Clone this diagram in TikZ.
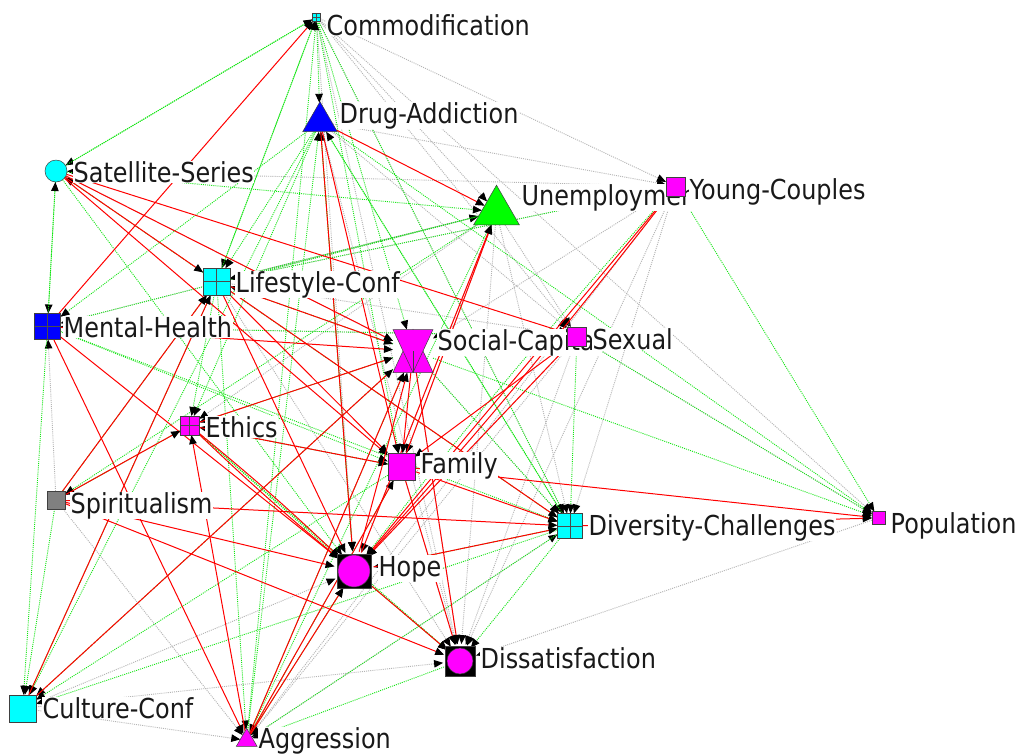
\documentclass[tikz,border=0pt]{standalone}
\usepackage{fontspec}
\setmainfont{DejaVu Sans}[FakeStretch=0.87]
\usetikzlibrary{arrows.meta,shapes.geometric}
\pgfdeclarelayer{bglayer}
\pgfdeclarelayer{edgelayer}
\pgfdeclarelayer{labellayer}
\pgfsetlayers{bglayer,edgelayer,labellayer,main}
\definecolor{lgreen}{RGB}{20,230,20}
\definecolor{lgray}{RGB}{180,180,180}
\definecolor{ncyan}{RGB}{0,255,255}
\definecolor{nmag}{RGB}{255,0,255}
\definecolor{nblue}{RGB}{0,0,255}
\definecolor{ngreen}{RGB}{0,255,0}
\definecolor{ngray}{RGB}{128,128,128}
\definecolor{nred}{RGB}{255,0,0}
\tikzset{
  shp/.style={draw=black!75, line width=0.5pt, inner sep=0pt, outer sep=0pt},
  sqn/.style={shp, rectangle, minimum size=#1},
  trn/.style={shp, regular polygon, regular polygon sides=3, minimum size=#1},
  crs/.style={path picture={\draw[black!70, line width=0.6pt]
      (path picture bounding box.north) -- (path picture bounding box.south)
      (path picture bounding box.west) -- (path picture bounding box.east);}},
  lbl/.style={anchor=base west, fill=white, inner sep=0.5pt,
      font=\fontsize{27.5}{30}\selectfont, text=black!90},
  tipb/.style={-{Triangle[length=9pt,width=7.5pt,color=black]}},
  er/.style={tipb, draw=nred, line width=1pt},
  eg/.style={tipb, draw=lgreen, line width=0.9pt, dash pattern=on 1pt off 1.1pt},
  ey/.style={tipb, draw=lgray, line width=0.9pt, dash pattern=on 1pt off 1.1pt},
}
\begin{document}
\begin{tikzpicture}[x=1pt,y=-1pt]
\useasboundingbox (0,0) rectangle (1019,753);
\begin{pgfonlayer}{bglayer}
\fill[white] (0,0) rectangle (1019,753);
\end{pgfonlayer}

% ---------- nodes ----------
\node[sqn=8pt, fill=ncyan, crs] (com) at (316.5,17) {};
\node[trn=40pt, fill=nblue] (drug) at (320,121.7) {};
\node[shp, circle, minimum size=22pt, fill=ncyan] (sat) at (56,171) {};
\node[trn=53pt, fill=ngreen] (unemp) at (496.5,211.7) {};
\node[sqn=19pt, fill=nmag] (yc) at (675.5,186.3) {};
\node[sqn=27pt, fill=ncyan, crs] (life) at (216.7,281.7) {};
\node[sqn=26pt, fill=nblue, crs] (mh) at (47.5,326.5) {};
\node[rectangle, minimum width=40pt, minimum height=43pt, inner sep=0pt, outer sep=0pt] (soc) at (413,351) {};
\filldraw[fill=nmag, draw=black!75, line width=0.5pt] (soc.south west) -- (soc.south east) -- (soc.north) -- cycle;
\filldraw[fill=nmag, draw=black!75, line width=0.5pt] (soc.north west) -- (soc.north east) -- (soc.south) -- cycle;
\draw[black!75, line width=0.5pt] (soc.center) -- (soc.south);
\node[sqn=19pt, fill=nmag] (sex) at (577,336.3) {};
\node[sqn=19pt, fill=nmag, crs] (eth) at (189.7,425.5) {};
\node[sqn=27pt, fill=nmag] (fam) at (401.3,466.7) {};
\node[sqn=18pt, fill=ngray] (spi) at (56,500) {};
\node[sqn=25pt, fill=ncyan, crs] (div) at (570,526) {};
\node[sqn=13pt, fill=nmag] (pop) at (878.3,518) {};
\node[circle, minimum size=40pt, inner sep=0pt, outer sep=0pt] (hope) at (354,571) {};
\node[sqn=34pt, fill=black] (hopesq) at (hope) {};
\node[shp, circle, minimum size=32pt, fill=nmag] (hopec) at (hope) {};
\node[circle, minimum size=34pt, inner sep=0pt, outer sep=0pt] (dis) at (460,661) {};
\node[sqn=30pt, fill=black] (dissq) at (dis) {};
\node[shp, circle, minimum size=26pt, fill=nmag] (disc) at (dis) {};
\node[sqn=27pt, fill=ncyan] (cul) at (22.7,708.3) {};
\node[trn=24pt, fill=nmag] (agg) at (246.7,740.3) {};

% ---------- labels ----------
\begin{pgfonlayer}{labellayer}
\node[lbl] (lcom) at (326,35) {Commodification};
\node[lbl] (ldrug) at (339,123) {Drug-Addiction};
\node[lbl] (lsat) at (73,182) {Satellite-Series};
\node[lbl] (lunemp) at (521,205) {Unemployment};
\node[lbl] (lyc) at (689,199) {Young-Couples};
\node[lbl] (llife) at (235,292) {Lifestyle-Conf};
\node[lbl] (lmh) at (63,337) {Mental-Health};
\node[lbl] (lsoc) at (437,350) {Social-Capital};
\node[lbl] (lsex) at (592,349) {Sexual};
\node[lbl] (leth) at (205,437) {Ethics};
\node[lbl] (lfam) at (420,473) {Family};
\node[lbl] (lspi) at (70,513) {Spiritualism};
\node[lbl] (lhope) at (378,576) {Hope};
\node[lbl] (ldiv) at (588,535) {Diversity-Challenges};
\node[lbl] (lpop) at (890,533) {Population};
\node[lbl] (ldis) at (480,668) {Dissatisfaction};
\node[lbl] (lcul) at (42,718) {Culture-Conf};
\node[lbl] (lagg) at (258,748) {Aggression};
\end{pgfonlayer}

% ---------- edges ----------
\begin{pgfonlayer}{edgelayer}
\foreach \a/\b in {com/unemp, com/yc, com/sex, com/div, com/dis, com/hope, com/pop,
  drug/yc, drug/sex, drug/dis, sat/soc,
  unemp/div, unemp/dis, unemp/sex, unemp/hope, unemp/fam, unemp/eth, unemp/life,
  yc/dis, yc/agg, yc/div, yc/soc, yc/life, yc/sat,
  life/sex, life/dis, life/unemp, mh/unemp, mh/sex,
  soc/dis, soc/div, sex/dis, sex/agg, sex/pop, sex/hope,
  spi/agg, spi/mh, cul/agg, cul/dis, cul/hope, pop/dis, fam/dis, agg/div, eth/fam}
  \draw[ey] (\a) -- (\b);
\foreach \a/\b in {com/sat, com/life, com/drug, com/fam, com/div, com/soc,
  drug/mh, drug/life, drug/eth, drug/hope, drug/div, drug/pop, drug/cul,
  sat/mh, mh/sat, sat/hope, sat/unemp, sat/com,
  unemp/life, unemp/mh, unemp/spi, unemp/agg,
  life/cul, life/eth, life/agg, life/com,
  mh/fam, mh/cul, mh/div,
  soc/pop, soc/div, soc/cul, soc/agg, soc/eth, soc/life,
  yc/pop, yc/life, sex/pop, sex/div, sex/mh,
  eth/hope, eth/spi, eth/dis, fam/agg, fam/cul, fam/eth,
  spi/cul, spi/life,
  div/agg, div/hope, div/dis, div/drug, div/sat, div/cul,
  hope/dis, hope/drug, dis/agg, agg/com, agg/drug, agg/hope}
  \draw[eg] (\a) -- (\b);
\draw[eg] (yc) to[bend right=2] (hope);
\foreach \a/\b in {sat/life, sat/sex, sat/fam, sat/soc, mh/com, mh/hope, mh/agg, mh/soc,
  drug/unemp, drug/hope, drug/fam, life/soc, life/div, life/fam, life/hope,
  eth/soc, eth/fam, spi/life, spi/eth, spi/div, spi/dis, spi/hope,
  cul/life, cul/soc, agg/eth, agg/soc, agg/fam, agg/hope,
  fam/div, fam/pop, fam/dis, fam/unemp, hope/div, hope/dis, hope/unemp, hope/soc,
  div/pop, sex/hope, sex/fam, soc/fam, soc/dis, yc/hope}
  \draw[er] (\a) -- (\b);
\draw[er] (eth) to[bend left=2] (hope);
\draw[er] (eth) to[bend right=2] (hope);
\draw[er] (yc) to[bend left=2] (hope);
\end{pgfonlayer}
\end{tikzpicture}
\end{document}
